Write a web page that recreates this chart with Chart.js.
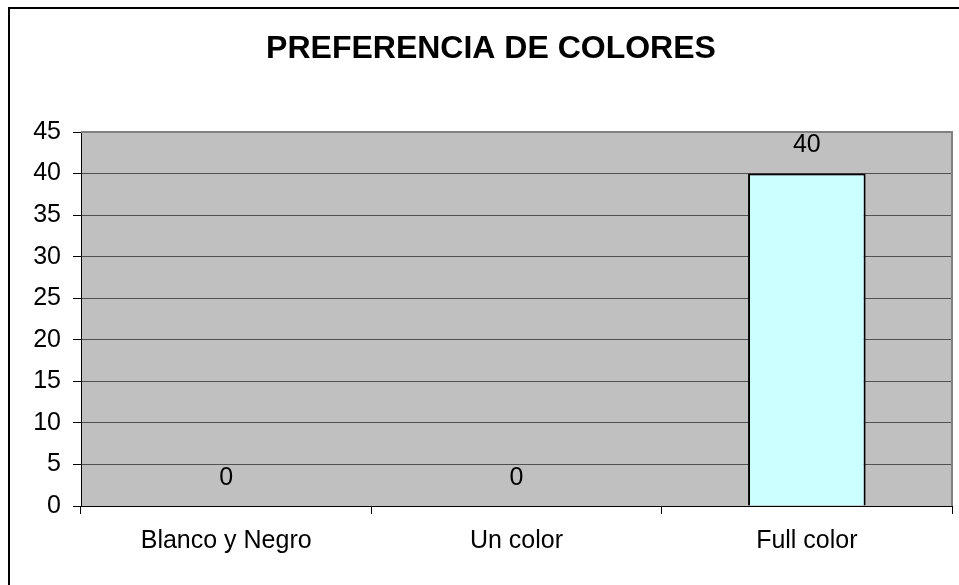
<!DOCTYPE html>
<html>
<head>
<meta charset="utf-8">
<script src="https://cdn.jsdelivr.net/npm/chart.js@4.4.0/dist/chart.umd.min.js"></script>
<style>
  html, body { margin: 0; padding: 0; background: #fff; }
  #wrap { width: 959px; height: 585px; position: relative; }
</style>
</head>
<body>
<div id="wrap"><canvas id="chart"></canvas></div>
<script>
const chartTitle = 'PREFERENCIA DE COLORES';
const categories = ['Blanco y Negro', 'Un color', 'Full color'];
const values = [0, 0, 40];
const yTicks = [0, 5, 10, 15, 20, 25, 30, 35, 40, 45];

const FONT = 'Arial, "Liberation Sans", sans-serif';

// fondo gris del área y marco exterior
const backdrop = {
  id: 'backdrop',
  beforeDraw(chart) {
    const { ctx, chartArea: a } = chart;
    ctx.save();
    ctx.fillStyle = '#fff';
    ctx.fillRect(0, 0, chart.width, chart.height);
    ctx.strokeStyle = '#000';
    ctx.lineWidth = 2;
    ctx.strokeRect(9, 8, chart.width + 10, chart.height + 10);
    ctx.fillStyle = '#c0c0c0';
    ctx.fillRect(a.left, a.top, a.right - a.left, a.bottom - a.top);
    ctx.restore();
  },
  afterDraw(chart) {
    const { ctx, chartArea: a } = chart;
    ctx.save();
    ctx.strokeStyle = '#808080';
    ctx.lineWidth = 2;
    ctx.beginPath();
    ctx.moveTo(a.left, a.top);
    ctx.lineTo(a.right, a.top);
    ctx.lineTo(a.right, a.bottom);
    ctx.stroke();
    // título
    ctx.fillStyle = '#000';
    ctx.font = 'bold 32px ' + FONT;
    ctx.textAlign = 'center';
    ctx.textBaseline = 'middle';
    ctx.fillText(chartTitle, 491, 49);
    // etiquetas de valores
    ctx.font = '25px ' + FONT;
    const meta = chart.getDatasetMeta(0);
    meta.data.forEach((bar, i) => {
      ctx.fillText(String(values[i]), bar.x, bar.y - 28);
    });
    ctx.restore();
  }
};

new Chart(document.getElementById('chart'), {
  type: 'bar',
  data: {
    labels: categories,
    datasets: [{
      data: values,
      backgroundColor: '#ccffff',
      borderColor: '#000',
      borderWidth: 2,
      categoryPercentage: 1,
      barPercentage: 0.405
    }]
  },
  options: {
    responsive: true,
    maintainAspectRatio: false,
    animation: false,
    layout: { padding: { left: 9, right: 7, top: 132, bottom: 0 } },
    plugins: { legend: { display: false }, title: { display: false }, tooltip: { enabled: false } },
    scales: {
      x: {
        afterFit(s) { s.height = 79; },
        grid: { offset: true, drawOnChartArea: false, tickLength: 8, tickColor: '#000', tickWidth: 1 },
        border: { color: '#000', width: 1 },
        ticks: { color: '#000', font: { size: 25, family: FONT }, padding: 12 }
      },
      y: {
        min: 0,
        max: 45,
        afterFit(s) { s.width = 72; },
        afterBuildTicks(s) { s.ticks = yTicks.map(v => ({ value: v })); },
        grid: { color: '#505050', lineWidth: 1, tickLength: 8, tickColor: '#000' },
        border: { color: '#000', width: 1 },
        ticks: { color: '#000', font: { size: 25, family: FONT }, padding: 12 }
      }
    }
  },
  plugins: [backdrop]
});
</script>
</body>
</html>
